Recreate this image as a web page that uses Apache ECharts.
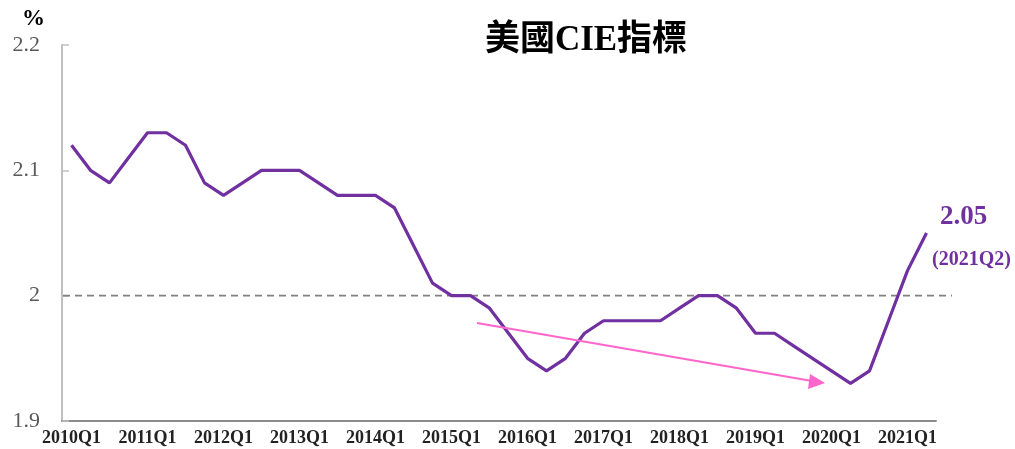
<!DOCTYPE html>
<html><head><meta charset="utf-8">
<script src="https://cdn.jsdelivr.net/npm/echarts@6/dist/echarts.min.js"></script>
<style>html,body{margin:0;padding:0;background:#fff}#c{width:1015px;height:449px}</style>
</head><body><div id="c"></div>
<script>
const years = ['2010','2011','2012','2013','2014','2015','2016','2017','2018','2019','2020','2021'];
const categories = [];
years.forEach(y => ['Q1','Q2','Q3','Q4'].forEach(q => categories.push(y + q)));
categories.length = 46; // through 2021Q2
const cieValues = [
  2.12, 2.10, 2.09, 2.11,
  2.13, 2.13, 2.12, 2.09,
  2.08, 2.09, 2.10, 2.10,
  2.10, 2.09, 2.08, 2.08,
  2.08, 2.07, 2.04, 2.01,
  2.00, 2.00, 1.99, 1.97,
  1.95, 1.94, 1.95, 1.97,
  1.98, 1.98, 1.98, 1.98,
  1.99, 2.00, 2.00, 1.99,
  1.97, 1.97, 1.96, 1.95,
  1.94, 1.93, 1.94, 1.98,
  2.02, 2.05
];
const yTicks = [1.9, 2.0, 2.1, 2.2];
const refLevel = 2.0;
const titleText = '美國CIE指標';
const unitText = '%';
const lastLabel = '2.05';
const lastPeriod = '(2021Q2)';

const chart = echarts.init(document.getElementById('c'), null, {renderer: 'canvas'});
const serif = '"Liberation Serif", "Noto Sans CJK TC", serif';
chart.setOption({
  animation: false,
  grid: {left: 62, right: 79, top: 45, bottom: 28, containLabel: false},
  title: {
    text: titleText, left: 581, top: 18, textAlign: 'center',
    textStyle: {fontFamily: serif, fontWeight: 'bold', fontSize: 35, color: '#000'}
  },
  xAxis: {
    type: 'category', data: categories, boundaryGap: true,
    axisLine: {lineStyle: {color: '#8c8c8c', width: 2}},
    axisTick: {inside: true, length: 4, interval: 3, lineStyle: {color: '#8c8c8c', width: 1.5}},
    axisLabel: {interval: 3, margin: 8, fontFamily: serif, fontWeight: 'bold', fontSize: 18, color: '#222'},
    splitLine: {show: false}
  },
  yAxis: {
    type: 'value', min: yTicks[0], max: yTicks[yTicks.length - 1], interval: 0.1,
    axisLine: {show: true, lineStyle: {color: '#c0c0c0', width: 2}},
    axisTick: {show: true, inside: true, length: 7, lineStyle: {color: '#c0c0c0', width: 1.5}},
    axisLabel: {margin: 22, fontFamily: serif, fontSize: 22, color: '#595959',
      formatter: v => String(Math.round(v * 10) / 10)},
    splitLine: {show: false}
  },
  series: [{
    type: 'line', data: cieValues, symbol: 'none', smooth: false,
    lineStyle: {color: '#7030a0', width: 3.2},
    z: 5
  }]
});

// derived positions from scales
const p0 = chart.convertToPixel({gridIndex: 0}, [0, refLevel]);
const pEnd = chart.convertToPixel({gridIndex: 0}, [categories.length - 1, cieValues[cieValues.length - 1]]);
const yTop = chart.convertToPixel({yAxisIndex: 0}, yTicks[yTicks.length - 1]);
chart.setOption({
  graphic: [
    {type: 'line', z: 3, shape: {x1: 63, y1: p0[1], x2: 952, y2: p0[1]},
      style: {stroke: '#808080', lineWidth: 1.8, lineDash: [7, 5]}},
    {type: 'text', left: 22, top: yTop - 37,
      style: {text: unitText, fontFamily: serif, fontWeight: 'bold', fontSize: 23, fill: '#000'}},
    {type: 'text', x: pEnd[0] + 37, y: pEnd[1] - 16, style: {text: lastLabel, align: 'center', verticalAlign: 'middle',
      fontFamily: serif, fontWeight: 'bold', fontSize: 27, fill: '#7030a0'}},
    {type: 'text', x: pEnd[0] + 45, y: pEnd[1] + 27, style: {text: lastPeriod, align: 'center', verticalAlign: 'middle',
      fontFamily: serif, fontWeight: 'bold', fontSize: 20, fill: '#7030a0'}},
    {type: 'line', z: 6, shape: {x1: 477, y1: 323, x2: 812, y2: 381},
      style: {stroke: '#ff66cc', lineWidth: 2.2}},
    {type: 'polygon', z: 6, shape: {points: [[825, 383], [810, 374], [808, 389]]},
      style: {fill: '#ff66cc'}}
  ]
});
</script></body></html>
